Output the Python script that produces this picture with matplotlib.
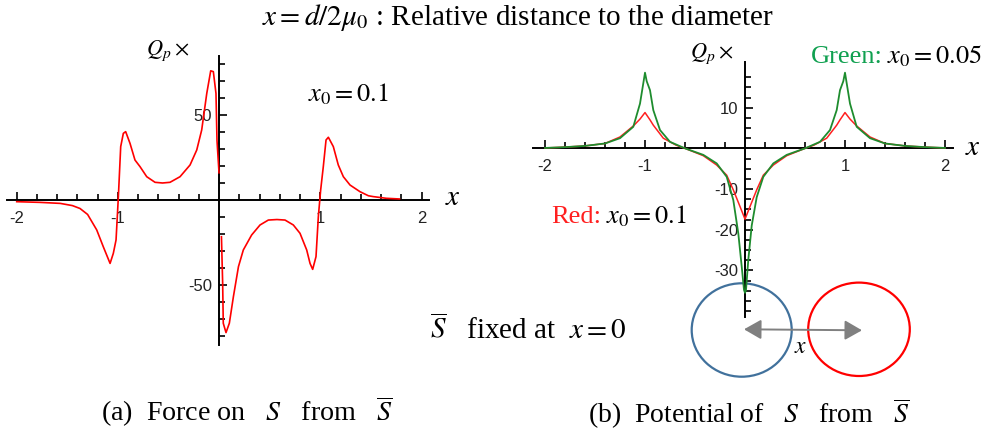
import numpy as np
import matplotlib
matplotlib.use("Agg")
import matplotlib.pyplot as plt
from matplotlib.patches import Ellipse, FancyArrowPatch
from matplotlib.ticker import FixedLocator

plt.rcParams['font.family'] = ['Liberation Serif', 'DejaVu Serif']
plt.rcParams['mathtext.fontset'] = 'stix'

# ---------------- data ----------------
# (a) force, x0 = 0.1 (two branches, discontinuous at x = 0)
force_x_neg = [-2.0, -1.77, -1.57, -1.45, -1.375, -1.30, -1.21, -1.145, -1.078, -1.046,
               -1.019, -0.996, -0.973, -0.947, -0.924, -0.881, -0.832, -0.782, -0.716,
               -0.634, -0.56, -0.486, -0.387, -0.288, -0.222, -0.173, -0.123, -0.084,
               -0.058, -0.032, -0.022, -0.002]
force_y_neg = [-1.0, -1.4, -2.0, -3.3, -5.0, -8.5, -17.6, -27.5, -37.3, -31.4,
               -23.5, 2.0, 31.4, 39.2, 40.2, 33.3, 23.5, 19.6, 13.7,
               10.4, 10.0, 10.4, 13.7, 20.6, 29.4, 41.2, 62.7, 76.0,
               75.5, 62.7, 35.0, 16.0]
force_x_pos = [0.022, 0.034, 0.04, 0.067, 0.10, 0.14, 0.19, 0.238, 0.32, 0.403, 0.485,
               0.57, 0.65, 0.732, 0.798, 0.864, 0.897, 0.923, 0.956, 0.979, 1.002, 1.028,
               1.055, 1.078, 1.127, 1.176, 1.226, 1.292, 1.39, 1.473, 1.52, 1.65, 1.78]
force_y_pos = [-21.6, -49.0, -72.5, -78.0, -72.5, -56.9, -39.2, -29.4, -20.6, -14.7, -11.8,
               -11.5, -11.8, -14.7, -19.6, -29.4, -37.3, -40.8, -33.3, -9.8, 5.9, 19.6,
               35.3, 36.9, 31.4, 20.6, 13.7, 8.8, 4.9, 2.5, 2.0, 1.0, 0.6]

# (b) potential, green x0 = 0.05, red x0 = 0.1
green_x = [-2.0, -1.8, -1.6, -1.4, -1.25, -1.117, -1.05, -1.017, -1.0, -0.983, -0.95,
           -0.917, -0.85, -0.75, -0.6, -0.417, -0.283, -0.183, -0.117, -0.067, -0.033,
           -0.01, 0.0, 0.01, 0.033, 0.067, 0.117, 0.183, 0.283, 0.417, 0.6, 0.75, 0.85,
           0.917, 0.95, 0.983, 1.0, 1.017, 1.05, 1.117, 1.25, 1.4, 1.6, 1.8, 2.0]
green_y = [0.1, 0.3, 0.6, 1.2, 2.5, 5.3, 11.0, 16.0, 18.6, 16.5, 14.3,
           9.4, 4.5, 1.6, 0.0, -1.6, -3.7, -7.0, -12.7, -20.9, -29.0,
           -34.8, -35.5, -34.8, -27.4, -19.0, -12.0, -7.0, -3.7, -1.6, 0.0, 1.6, 4.5,
           9.4, 14.3, 16.5, 18.6, 16.0, 11.0, 5.3, 2.5, 1.2, 0.6, 0.3, 0.1]
red_x = [-2.0, -1.8, -1.6, -1.4, -1.25, -1.117, -1.05, -1.0, -0.95, -0.917, -0.817,
         -0.69, -0.6, -0.417, -0.283, -0.183, -0.117, -0.05, 0.0, 0.05, 0.117, 0.183,
         0.283, 0.417, 0.6, 0.69, 0.817, 0.917, 0.95, 1.0, 1.05, 1.117, 1.25, 1.4,
         1.6, 1.8, 2.0]
red_y = [0.1, 0.3, 0.6, 1.2, 2.8, 5.5, 7.2, 8.8, 7.0, 5.7, 2.5,
         0.8, 0.0, -1.8, -4.1, -6.6, -10.2, -14.3, -17.4, -14.3, -10.2, -6.6,
         -4.1, -1.8, 0.0, 0.8, 2.5, 5.7, 7.0, 8.8, 7.2, 5.5, 2.8, 1.2,
         0.6, 0.3, 0.1]

xtick_vals = [-2, -1, 1, 2]
xtick_labels = ['-2', '-1', '1', '2']
left_ytick_vals = [-50, 50]
left_ytick_labels = ['-50', '50']
right_ytick_vals = [-30, -20, -10, 10]
right_ytick_labels = ['-30', '-20', '-10', '10']

# ---------------- figure ----------------
W, H = 987, 434
fig = plt.figure(figsize=(W / 100, H / 100), dpi=100)


def box(left, top, right, bottom):
    return [left / W, 1 - bottom / H, (right - left) / W, (bottom - top) / H]


def style_axes(ax, ymajor, ylabels, yminor):
    for s in ['top', 'right']:
        ax.spines[s].set_visible(False)
    ax.spines['left'].set_position(('data', 0))
    ax.spines['bottom'].set_position(('data', 0))
    for s in ['left', 'bottom']:
        ax.spines[s].set_linewidth(1.4)
        ax.spines[s].set_color('black')
    ax.patch.set_visible(False)
    ax.xaxis.set_major_locator(FixedLocator(xtick_vals))
    ax.set_xticklabels(xtick_labels)
    ax.xaxis.set_minor_locator(FixedLocator([v for v in np.round(np.arange(-2.0, 2.01, 0.2), 2)
                                             if abs(v) > 1e-6 and v not in xtick_vals]))
    ax.yaxis.set_major_locator(FixedLocator(ymajor))
    ax.set_yticklabels(ylabels)
    ax.yaxis.set_minor_locator(FixedLocator(yminor))
    ax.tick_params(axis='both', which='both', direction='in', color='black', width=1.2)
    ax.tick_params(axis='both', which='major', length=6)
    ax.tick_params(axis='both', which='minor', length=4)
    ax.tick_params(axis='x', which='major', pad=8)
    ax.tick_params(axis='y', which='major', pad=5)
    for lab in ax.get_xticklabels() + ax.get_yticklabels():
        lab.set_fontfamily('Liberation Sans')
        lab.set_fontsize(12)
        lab.set_color('#222222')


# left axes (a)
ax1 = fig.add_axes(box(6.6, 56, 428.8, 345))
ax1.set_xlim(-2.1, 2.07)
ax1.set_ylim(-85.3, 84.7)
ax1.plot(force_x_neg, force_y_neg, color='#ff0000', lw=1.2, zorder=3)
ax1.plot(force_x_pos, force_y_pos, color='#ff0000', lw=1.2, zorder=3)
style_axes(ax1, left_ytick_vals, left_ytick_labels,
           [v for v in range(-80, 81, 10) if v not in (0, -50, 50)])

# right axes (b)
ax2 = fig.add_axes(box(533.3, 61.7, 953.3, 317))
ax2.set_xlim(-2.117, 2.083)
ax2.set_ylim(-41.45, 21.3)
ax2.plot(red_x, red_y, color='#ff2020', lw=1.1, zorder=3)
ax2.plot(green_x, green_y, color='#1e8c2e', lw=1.3, zorder=4)
style_axes(ax2, right_ytick_vals, right_ytick_labels,
           [v for v in np.arange(-40, 18, 2.5) if v not in (0, -10, -20, -30, 10)])

# overlay in pixel coordinates
ov = fig.add_axes([0, 0, 1, 1], zorder=-1)
ov.set_xlim(0, W)
ov.set_ylim(H, 0)
ov.axis('off')

ov.add_patch(Ellipse((741.7, 330), 100, 93.4, fill=False, ec='#41719c', lw=1.6))
ov.add_patch(Ellipse((859, 329.3), 101.6, 93.4, fill=False, ec='#ff0000', lw=1.6))
ov.add_patch(FancyArrowPatch((744, 329.3), (862, 330.3), arrowstyle='<|-|>,head_length=7,head_width=4',
                             color='#808080', lw=1.4, shrinkA=0, shrinkB=0, mutation_scale=1.5))

ov.text(262, 25, r'$x = d/2\mu_0$ : Relative distance to the diameter', fontsize=21,
        ha='left', va='baseline')
ov.text(146, 55, r'$Q_p\times$', fontsize=16, ha='left', va='baseline')
ov.text(690, 58, r'$Q_p\times$', fontsize=16, ha='left', va='baseline')
ov.text(453, 205, r'$x$', fontsize=21, ha='center', va='baseline')
ov.text(973, 155, r'$x$', fontsize=21, ha='center', va='baseline')
ov.text(308, 101, r'$x_0 = 0.1$', fontsize=19, ha='left', va='baseline')
ov.text(811, 63, 'Green:', fontsize=19, color='#10a050', ha='left', va='baseline')
ov.text(887, 63, r'$x_0 = 0.05$', fontsize=19, ha='left', va='baseline')
ov.text(551, 223, 'Red:', fontsize=19, color='#ff2020', ha='left', va='baseline')
ov.text(606, 223, r'$x_0 = 0.1$', fontsize=19, ha='left', va='baseline')
ov.text(430, 338, r'$\overline{S}$   fixed at  $x = 0$', fontsize=21, ha='left', va='baseline')
ov.text(801, 353, r'$x$', fontsize=17, ha='center', va='baseline')
ov.text(101, 421, r'(a)  Force on   $S$   from   $\overline{S}$', fontsize=20.2, ha='left', va='baseline')
ov.text(588, 423, r'(b)  Potential of   $S$   from   $\overline{S}$', fontsize=20.0, ha='left', va='baseline')

fig.savefig('out.png', dpi=100)
